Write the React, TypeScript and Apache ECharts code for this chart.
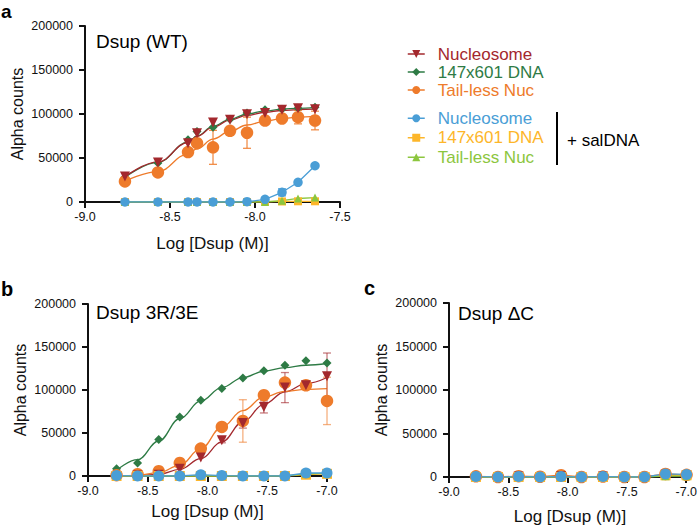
import React, { useEffect, useRef } from "react";
import * as echarts from "echarts";

// ---------- Data ----------
// Panel a: Dsup (WT)
const xA = [-8.765, -8.571, -8.394, -8.341, -8.247, -8.147, -8.047, -7.941, -7.841, -7.747, -7.647];
const aNuc = [29100, 45000, 66900, 78200, 90300, 93400, 99800, 101000, 104700, 106600, 105500];
const aDNA = [28000, 44200, 70700, 80100, 85000, 94100, 101000, 104700, 105500, 106600, 107700];
const aTail = [23400, 33600, 56700, 66900, 62100, 80900, 78700, 92600, 94900, 96400, 92600];
const aTailErr = [0, 0, 0, 0, 19300, 0, 17700, 0, 0, 7600, 10600];
const aNucSal = [0, 0, 0, 0, 0, 0, 300, 3000, 11000, 22400, 41200];
const aNucSalErr = [0, 0, 0, 0, 0, 0, 0, 0, 4000, 0, 0];
const aDNASal = [0, 0, 0, 0, 0, 0, 0, 300, 600, 800, 800];
const aTailSal = [0, 0, 0, 0, 0, 0, 0, 0, 1500, 4000, 5000];
const aNucFit = [28500, 45500, 67500, 74500, 85000, 93000, 98500, 102000, 104000, 105000, 105500];
const aDNAFit = [28000, 45000, 68000, 75000, 86000, 94000, 100000, 103500, 105500, 106500, 107500];
const aTailFit = [23500, 34500, 54500, 60500, 71500, 80500, 87500, 92000, 94800, 96500, 97500];

// Panel b: Dsup 3R/3E
const xB = [-8.761, -8.585, -8.408, -8.232, -8.056, -7.88, -7.704, -7.528, -7.352, -7.176, -7.0];
const bNuc = [0, 500, 1500, 8500, 21400, 41600, 61700, 80300, 102800, 105500, 116000];
const bNucErr = [0, 0, 0, 0, 0, 3000, 6000, 7000, 17500, 3000, 27000];
const bDNA = [8500, 15100, 42300, 68700, 88100, 101700, 114000, 122300, 128800, 133900, 131500];
const bTail = [1000, 2000, 5500, 15100, 31900, 57100, 64000, 94000, 108600, 105500, 87300];
const bTailErr = [0, 0, 0, 0, 0, 0, 24700, 0, 0, 5000, 27500];
const bNucSal = [500, 0, 0, 0, 1500, 500, 0, 0, 0, 3500, 3500];
const bDNASal = [0, 0, 0, 0, 0, 0, 0, 0, 0, 1500, 2500];
const bTailSal = [0, 0, 0, 0, 0, 0, 0, 0, 0, 2500, 3000];
const bNucFit = [0, 500, 2000, 7800, 20200, 39600, 62900, 83400, 97800, 107500, 114500];
const bDNAFit = [6600, 19000, 40700, 66700, 87300, 102800, 114400, 121800, 126000, 128800, 130800];
const bTailFit = [0, 800, 3900, 12400, 31800, 57000, 76000, 92000, 98500, 100800, 101700];

// Panel c: Dsup ΔC
const xC = [-8.773, -8.587, -8.413, -8.232, -8.055, -7.883, -7.702, -7.522, -7.352, -7.175, -6.997];
const cNuc = [0, 0, 500, 0, 800, 0, 500, 0, 0, 2500, 2000];
const cDNA = [300, 0, 300, 0, 500, 0, 0, 0, 0, 1500, 1500];
const cTail = [800, 0, 1000, 300, 2000, 0, 500, 0, 0, 3500, 2500];
const cNucSal = [500, 0, 500, 0, 500, 0, 500, 0, 0, 3500, 3000];
const cDNASal = [0, 0, 0, 0, 0, 0, 0, 0, 0, 2000, 2000];
const cTailSal = [0, 0, 0, 0, 0, 0, 0, 0, 0, 1000, 1000];

const yTicks = [0, 50000, 100000, 150000, 200000];
const xTicks = [-9.0, -8.5, -8.0, -7.5, -7.0];

const legendNames = ["Nucleosome", "147x601 DNA", "Tail-less Nuc"];
const salSuffix = " + salDNA";

// ---------- Styles ----------
const FONT = "Liberation Sans, Arial, Helvetica, sans-serif";
const RED = "#A3282D";
const GREEN = "#2E7B45";
const ORANGE = "#EE7B2B";
const BLUE = "#4A9ED6";
const YELLOW = "#FDB62A";
const LIME = "#8CC63E";
const INK = "#111111";

const zip = (xs: number[], ys: number[]) => xs.map((x, i) => [x, ys[i]]);

function errData(xs: number[], ys: number[], es: number[]) {
  const out: number[][] = [];
  xs.forEach((x, i) => {
    if (es[i] > 0) out.push([x, ys[i] - es[i], ys[i] + es[i]]);
  });
  return out;
}

function errSeries(idx: number, data: number[][], color: string) {
  return {
    type: "custom",
    xAxisIndex: idx,
    yAxisIndex: idx,
    silent: true,
    z: 3,
    data,
    renderItem: (params: any, api: any) => {
      const x = api.value(0);
      const lo = api.coord([x, api.value(1)]);
      const hi = api.coord([x, api.value(2)]);
      const w = 4;
      const style = { stroke: color, lineWidth: 1.3, fill: "none" };
      return {
        type: "group",
        children: [
          { type: "line", shape: { x1: lo[0], y1: lo[1], x2: hi[0], y2: hi[1] }, style },
          { type: "line", shape: { x1: lo[0] - w, y1: lo[1], x2: lo[0] + w, y2: lo[1] }, style },
          { type: "line", shape: { x1: hi[0] - w, y1: hi[1], x2: hi[0] + w, y2: hi[1] }, style },
        ],
      };
    },
  };
}

function fitSeries(idx: number, name: string, xs: number[], ys: number[], color: string) {
  return {
    type: "line",
    name,
    xAxisIndex: idx,
    yAxisIndex: idx,
    data: zip(xs, ys),
    smooth: 0.4,
    smoothMonotone: "x",
    symbol: "none",
    showSymbol: false,
    silent: true,
    z: 2,
    lineStyle: { color, width: 1.3 },
  };
}

function pointSeries(
  idx: number,
  name: string,
  xs: number[],
  ys: number[],
  color: string,
  symbol: string,
  size: number,
  rotate = 0,
  connect = false
) {
  return {
    type: "line",
    name,
    xAxisIndex: idx,
    yAxisIndex: idx,
    data: zip(xs, ys),
    symbol,
    symbolSize: size,
    symbolRotate: rotate,
    showSymbol: true,
    showAllSymbol: true,
    z: 4,
    itemStyle: { color, borderWidth: 0 },
    lineStyle: connect ? { color, width: 1.3 } : { color, width: 1.3, opacity: 0 },
  };
}

function xAxisCfg(idx: number, max: number, nameGap: number) {
  const ticks = xTicks.filter((t) => t <= max + 1e-9);
  return {
    type: "value",
    gridIndex: idx,
    min: -9,
    max,
    interval: 0.5,
    name: "Log [Dsup (M)]",
    nameLocation: "middle",
    nameGap,
    nameTextStyle: { fontFamily: FONT, fontSize: 17, color: INK },
    axisLine: { show: true, onZero: false, lineStyle: { color: INK, width: 2 } },
    axisTick: { show: true, length: 6, lineStyle: { color: INK, width: 2 }, customValues: ticks },
    axisLabel: {
      fontFamily: FONT,
      fontSize: 12.5,
      color: INK,
      margin: 8,
      customValues: ticks,
      formatter: (v: number) => v.toFixed(1),
    },
    splitLine: { show: false },
  };
}

function yAxisCfg(idx: number) {
  return {
    type: "value",
    gridIndex: idx,
    min: 0,
    max: 200000,
    interval: 50000,
    name: "Alpha counts",
    nameLocation: "middle",
    nameGap: 60,
    nameTextStyle: { fontFamily: FONT, fontSize: 16, color: INK },
    axisLine: { show: true, lineStyle: { color: INK, width: 2 } },
    axisTick: { show: true, length: 6, lineStyle: { color: INK, width: 2 }, customValues: yTicks },
    axisLabel: {
      fontFamily: FONT,
      fontSize: 12.5,
      color: INK,
      margin: 12,
      customValues: yTicks,
      formatter: (v: number) => String(v),
    },
    splitLine: { show: false },
  };
}

function panelSeries(
  idx: number,
  xs: number[],
  nuc: number[],
  dna: number[],
  tail: number[],
  nucSal: number[],
  dnaSal: number[],
  tailSal: number[],
  fits: number[][] | null,
  errs: { data: number[][]; color: string }[],
  big: boolean
) {
  const s: any[] = [];
  if (fits) {
    s.push(fitSeries(idx, "fit-dna-" + idx, xs, fits[1], GREEN));
    s.push(fitSeries(idx, "fit-nuc-" + idx, xs, fits[0], RED));
    s.push(fitSeries(idx, "fit-tail-" + idx, xs, fits[2], ORANGE));
  }
  errs.forEach((e) => s.push(errSeries(idx, e.data, e.color)));
  const conn = !fits;
  s.push(pointSeries(idx, legendNames[1], xs, dna, GREEN, "diamond", 9, 0, conn));
  s.push(pointSeries(idx, legendNames[2], xs, tail, ORANGE, "circle", 12.5, 0, conn));
  s.push(pointSeries(idx, legendNames[0], xs, nuc, RED, "triangle", 10, 180, conn));
  s.push(pointSeries(idx, legendNames[1] + salSuffix, xs, dnaSal, YELLOW, "rect", big ? 10 : 8, 0, true));
  s.push(pointSeries(idx, legendNames[2] + salSuffix, xs, tailSal, LIME, "triangle", 8, 0, true));
  s.push(pointSeries(idx, legendNames[0] + salSuffix, xs, nucSal, BLUE, "circle", big ? 11 : 9.5, 0, true));
  return s;
}

function legendCfg(top: number, lineHeight: number, items: { name: string; color: string }[]) {
  return {
    orient: "vertical",
    left: 407,
    top,
    padding: 0,
    itemWidth: 17,
    itemHeight: 10,
    itemGap: 0,
    selectedMode: false,
    formatter: (name: string) => name.replace(salSuffix, ""),
    textStyle: { fontFamily: FONT, fontSize: 17, lineHeight, padding: [0, 0, 0, 8] },
    data: items.map((it) => ({
      name: it.name,
      textStyle: { color: it.color },
      lineStyle: { color: it.color, width: 1.5, opacity: 1 },
    })),
  };
}

export default function App() {
  const ref = useRef<HTMLDivElement>(null);

  useEffect(() => {
    if (!ref.current) return;
    const chart = echarts.init(ref.current, null, { renderer: "svg" });

    const series = [
      ...panelSeries(
        0, xA, aNuc, aDNA, aTail, aNucSal, aDNASal, aTailSal,
        [aNucFit, aDNAFit, aTailFit],
        [
          { data: errData(xA, aTail, aTailErr), color: "rgba(238,123,43,0.85)" },
          { data: errData(xA, aNucSal, aNucSalErr), color: "rgba(74,158,214,0.9)" },
        ],
        false
      ),
      ...panelSeries(
        1, xB, bNuc, bDNA, bTail, bNucSal, bDNASal, bTailSal,
        [bNucFit, bDNAFit, bTailFit],
        [
          { data: errData(xB, bNuc, bNucErr), color: "rgba(163,40,45,0.6)" },
          { data: errData(xB, bTail, bTailErr), color: "rgba(238,123,43,0.6)" },
        ],
        true
      ),
      ...panelSeries(2, xC, cNuc, cDNA, cTail, cNucSal, cDNASal, cTailSal, null, [], true),
    ];

    const option: any = {
      animation: false,
      backgroundColor: "#ffffff",
      textStyle: { fontFamily: FONT },
      grid: [
        { left: 85, top: 26, width: 255, height: 176 },
        { left: 88, top: 304, width: 239, height: 172 },
        { left: 449, top: 303, width: 249, height: 174 },
      ],
      xAxis: [xAxisCfg(0, -7.5, 33), xAxisCfg(1, -7.0, 27), xAxisCfg(2, -6.96, 31)],
      yAxis: [yAxisCfg(0), yAxisCfg(1), yAxisCfg(2)],
      legend: [
        legendCfg(45, 18, [
          { name: legendNames[0], color: RED },
          { name: legendNames[1], color: GREEN },
          { name: legendNames[2], color: ORANGE },
        ]),
        legendCfg(108.5, 19.5, [
          { name: legendNames[0] + salSuffix, color: BLUE },
          { name: legendNames[1] + salSuffix, color: YELLOW },
          { name: legendNames[2] + salSuffix, color: LIME },
        ]),
      ],
      graphic: [
        { type: "text", x: 1, y: 11, style: { text: "a", font: `bold 19px ${FONT}`, fill: "#000", textVerticalAlign: "middle" } },
        { type: "text", x: 1, y: 289, style: { text: "b", font: `bold 20px ${FONT}`, fill: "#000", textVerticalAlign: "middle" } },
        { type: "text", x: 364, y: 288, style: { text: "c", font: `bold 20px ${FONT}`, fill: "#000", textVerticalAlign: "middle" } },
        { type: "text", x: 96, y: 41, style: { text: "Dsup (WT)", font: `19px ${FONT}`, fill: "#000", textVerticalAlign: "middle" } },
        { type: "text", x: 96, y: 312, style: { text: "Dsup 3R/3E", font: `19px ${FONT}`, fill: "#000", textVerticalAlign: "middle" } },
        { type: "text", x: 458, y: 313, style: { text: "Dsup \u0394C", font: `19px ${FONT}`, fill: "#000", textVerticalAlign: "middle" } },
        { type: "line", shape: { x1: 557, y1: 112, x2: 557, y2: 165 }, style: { stroke: "#000", lineWidth: 2 } },
        { type: "text", x: 567, y: 140, style: { text: "+ salDNA", font: `17px ${FONT}`, fill: "#000", textVerticalAlign: "middle" } },
      ],
      series,
    };

    chart.setOption(option);
    return () => chart.dispose();
  }, []);

  return (
    <div
      ref={ref}
      style={{ position: "absolute", left: 0, top: 0, width: 700, height: 527 }}
    />
  );
}
